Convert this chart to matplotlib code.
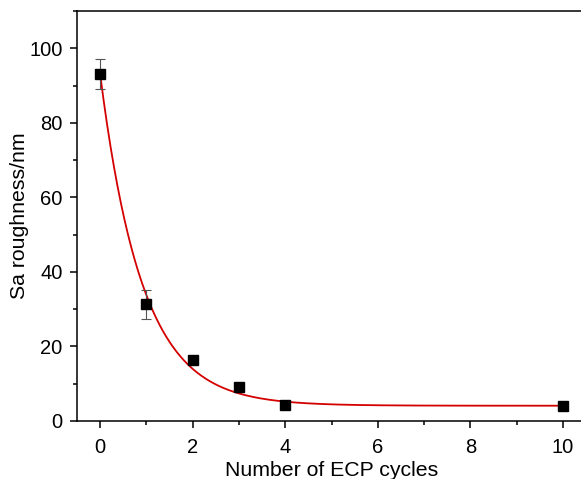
import numpy as np
import matplotlib
matplotlib.use('Agg')
import matplotlib.pyplot as plt
from matplotlib.ticker import MultipleLocator

plt.rcParams['font.family'] = ['Liberation Sans', 'DejaVu Sans']

# measured data
cycles = [0, 1, 2, 3, 4, 10]
roughness = [93.1, 31.3, 16.3, 9.2, 4.3, 4.0]
roughness_err = [4.0, 3.8, 1.0, 0.5, 0.4, 0.3]

# exponential decay fit y = y0 + A*exp(-x/t)
fit_y0 = 4.1
fit_A = 89.0
fit_t = 0.91

fig = plt.figure(figsize=(5.81, 4.79), dpi=100)
ax = fig.add_axes([77 / 581, 1 - 421 / 479, 509 / 581, 410 / 479])

xs = np.linspace(0, 10, 400)
ax.plot(xs, fit_y0 + fit_A * np.exp(-xs / fit_t), color='#d40000', lw=1.3, zorder=2)
ax.errorbar(cycles, roughness, yerr=roughness_err, fmt='none', ecolor='#555555',
            elinewidth=0.8, capsize=3.5, capthick=0.8, zorder=3)
ax.plot(cycles, roughness, 's', color='black', markersize=7.5, zorder=4)

ax.set_xlim(-0.5, 10.5)
ax.set_ylim(0, 110)
ax.xaxis.set_major_locator(MultipleLocator(2))
ax.xaxis.set_minor_locator(MultipleLocator(1))
ax.yaxis.set_major_locator(MultipleLocator(20))
ax.yaxis.set_minor_locator(MultipleLocator(10))
ax.set_yticks([0, 20, 40, 60, 80, 100])

for s in ax.spines.values():
    s.set_linewidth(1.1)
ax.spines['right'].set_visible(False)
ax.tick_params(which='both', direction='out', width=1.1, labelsize=14.5, top=False, right=False)
ax.tick_params(which='major', length=5)
ax.tick_params(which='minor', length=3)
ax.tick_params(axis='x', which='major', pad=7)
ax.tick_params(axis='y', which='major', pad=5.5)

ax.set_xlabel('Number of ECP cycles', fontsize=15.3, labelpad=3)
ax.set_ylabel('Sa roughness/nm', fontsize=15.3, labelpad=0)

fig.savefig('out.png', dpi=100)
